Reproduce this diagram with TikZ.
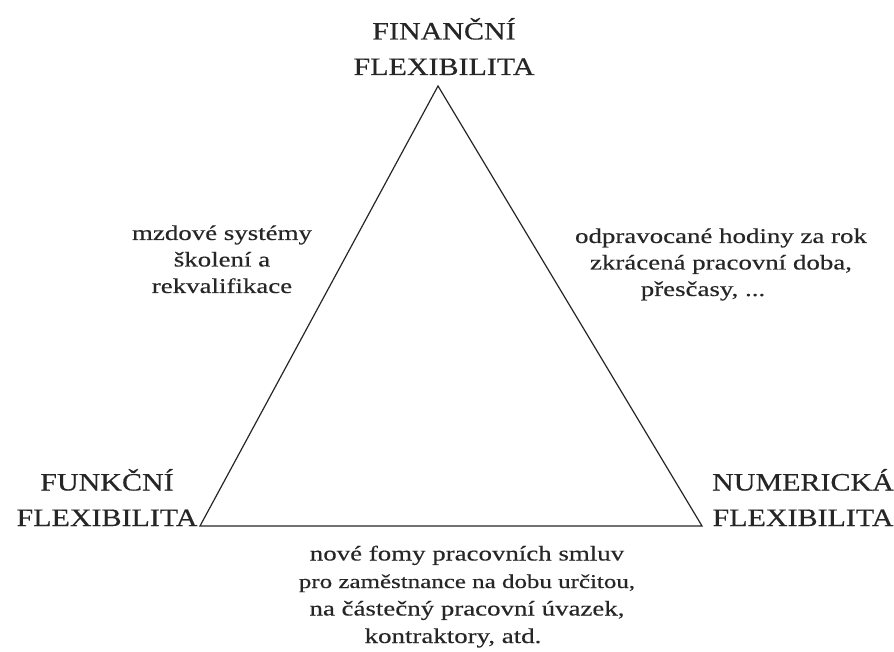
\documentclass[tikz,border=0pt]{standalone}
\usepackage{fontspec}
\setmainfont{Liberation Serif}
\newfontfamily\capsfont[FakeStretch=1.2,FakeBold=0.4]{Liberation Serif}
\newfontfamily\notefont[FakeStretch=1.28,FakeBold=0.4]{Liberation Serif}
\usepackage{tikz}

\begin{document}
\begin{tikzpicture}[x=1pt,y=-1pt,
  corner/.style={font=\capsfont\fontsize{25}{35.5}\selectfont,align=center,inner sep=0pt,anchor=base,text=black!85},
  note/.style={font=\notefont\fontsize{21}{26.5}\selectfont,align=center,inner sep=0pt,anchor=base,text=black!85}]
\useasboundingbox (0,0) rectangle (894,652);
\coordinate (apex) at (438,86);
\coordinate (lcorner) at (200,526);
\coordinate (rcorner) at (702,526);
\draw[line width=1.2pt,line join=miter,black!85] (apex) -- (rcorner) -- (lcorner) -- cycle;
% vrcholy
\node[corner] (financni) at (444,75) {FINANČNÍ\\FLEXIBILITA};
\node[corner] (funkcni) at (107,526) {FUNKČNÍ\\FLEXIBILITA};
\node[corner] (numericka) at (803,526) {NUMERICKÁ\\FLEXIBILITA};
% strany
\node[note] (mzdy) at (222,293) {mzdové systémy\\školení a\\rekvalifikace};
\node[note] (hodiny) at (721,296) {odpravocané hodiny za rok\\zkrácená pracovní doba,\\přesčasy, ...\hspace*{36pt}};
\node[note,font=\notefont\fontsize{21}{27.5}\selectfont] (smlouvy) at (467,643) {nové fomy pracovních smluv\\{\fontsize{19.5}{27.5}\selectfont pro zaměstnance na dobu určitou,}\\na částečný pracovní úvazek,\\kontraktory, atd.\hspace*{28pt}};
\end{tikzpicture}
\end{document}
